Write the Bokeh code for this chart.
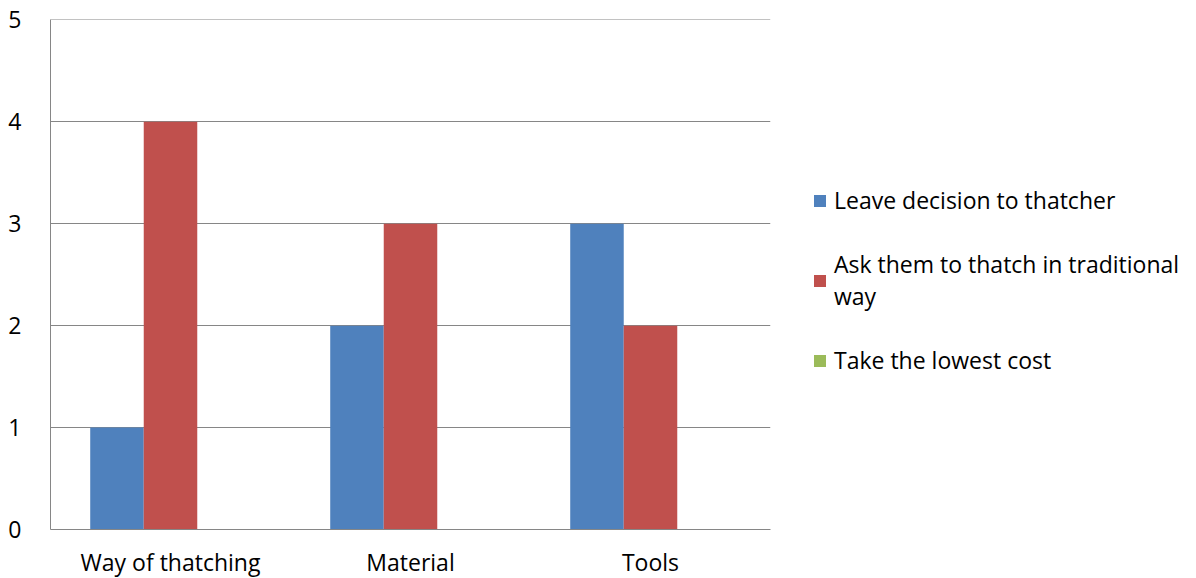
from bokeh.plotting import figure
from bokeh.models import ColumnDataSource, FactorRange, Range1d, Legend, LegendItem
from bokeh.transform import dodge
from bokeh.embed import file_html
from bokeh.resources import INLINE

categories = ["Way of thatching", "Material", "Tools"]
series_names = ["Leave decision to thatcher", "Ask them to thatch in traditional\nway", "Take the lowest cost"]
leave = [1, 2, 3]
ask = [4, 3, 2]
lowest = [0, 0, 0]
colors = ["#4F81BD", "#C0504D", "#9BBB59"]
y_ticks = [0, 1, 2, 3, 4, 5]

FONT = "Open Sans"

src = ColumnDataSource(dict(cat=categories, leave=leave, ask=ask, lowest=lowest))

p = figure(frame_width=720, frame_height=510, x_range=FactorRange(*categories), y_range=Range1d(0, 5.004),
           output_backend="svg", toolbar_location=None,
           min_border_left=50, min_border_right=0, min_border_top=19, min_border_bottom=49)
p.outline_line_color = None

bw = 0.223
renderers = []
for field, off, col in zip(["leave", "ask", "lowest"], [-bw, 0, bw], colors):
    r = p.vbar(x=dodge("cat", off, range=p.x_range), top=field, width=bw, source=src,
               fill_color=col, line_color=None)
    renderers.append(r)

p.xgrid.grid_line_color = None
p.ygrid.grid_line_color = "#868686"
p.ygrid.grid_line_width = 1
p.yaxis.ticker = y_ticks
p.yaxis.axis_line_color = "#868686"
p.xaxis.axis_line_color = "#868686"
for ax in (p.xaxis, p.yaxis):
    ax.major_tick_line_color = None
    ax.minor_tick_line_color = None
    ax.major_label_text_font = FONT
    ax.major_label_text_font_size = "23px"
    ax.major_label_text_color = "black"
p.yaxis.major_label_standoff = 23
p.xaxis.major_label_standoff = 10

legend = Legend(items=[LegendItem(label=n, renderers=[r]) for n, r in zip(series_names, renderers)],
                location=(42, 153), padding=0, margin=0, spacing=32,
                border_line_color=None, background_fill_alpha=0,
                glyph_width=15, glyph_height=15, label_standoff=7,
                label_text_font=FONT, label_text_font_size="23px", label_text_color="black")
p.add_layout(legend, "right")
p.min_border_right = 0

open("out.html", "w").write(file_html(p, INLINE))
